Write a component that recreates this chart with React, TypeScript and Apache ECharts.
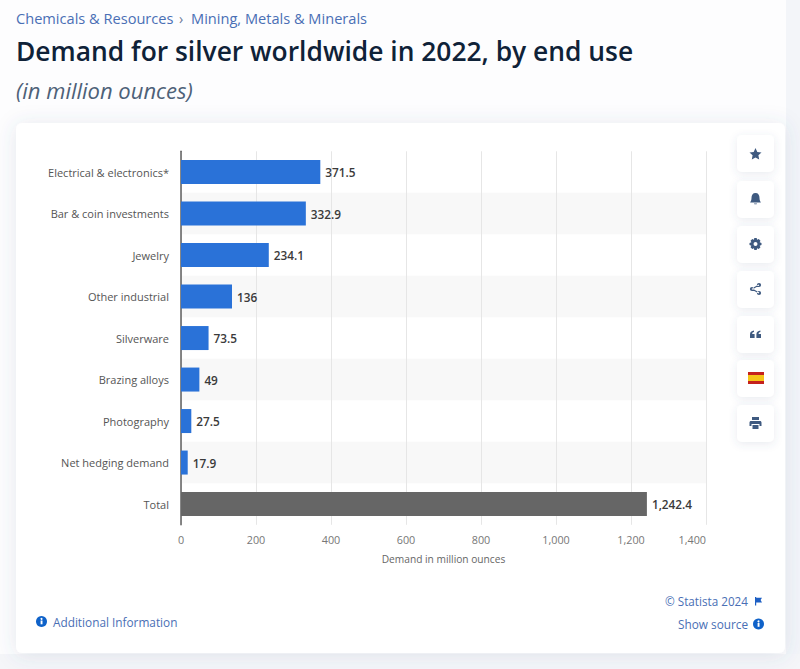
import React, { useEffect, useRef } from "react";
import * as echarts from "echarts";

const categories = ["Electrical & electronics*", "Bar & coin investments", "Jewelry", "Other industrial", "Silverware", "Brazing alloys", "Photography", "Net hedging demand", "Total"];
const values = [371.5, 332.9, 234.1, 136, 73.5, 49, 27.5, 17.9, 1242.4];
const BLUE = "#2a72d8";
const GREY = "#666666";
const LINK = "#4a6fb5";

const circ = (cx: number, cy: number, r: number) => `M${cx - r} ${cy} A${r} ${r} 0 1 0 ${cx + r} ${cy} A${r} ${r} 0 1 0 ${cx - r} ${cy} Z `;
const reg = (name: string, d: string) => echarts.graphic.registerShape(name, echarts.graphic.extendPath(d as any, {} as any) as any);
reg("star", "M6 0 L7.8 3.9 L12 4.4 L8.9 7.3 L9.7 11.5 L6 9.4 L2.3 11.5 L3.1 7.3 L0 4.4 L4.2 3.9 Z");
reg("bell", "M6 0 C8.8 0 10 2 10 5 C10 7 10.6 8 11.4 9.4 L0.6 9.4 C1.4 8 2 7 2 5 C2 2 3.2 0 6 0 Z M4.5 10.4 L7.5 10.4 C7.5 11.6 4.5 11.6 4.5 10.4 Z");
reg("gear", "M4.8 0 L7.2 0 L7.6 1.7 L9.2 1 L11 2.8 L10.1 4.3 L12 4.9 L12 7.1 L10.1 7.7 L11 9.2 L9.2 11 L7.6 10.3 L7.2 12 L4.8 12 L4.4 10.3 L2.8 11 L1 9.2 L1.9 7.7 L0 7.1 L0 4.9 L1.9 4.3 L1 2.8 L2.8 1 L4.4 1.7 Z M6 4 A2 2 0 1 0 6 8 A2 2 0 1 0 6 4 Z");
reg("share", circ(9.5, 2, 2.1) + circ(2.5, 6, 2.1) + circ(9.5, 10, 2.1) + "M2.2 5.4 L9.2 1.4 L9.8 2.6 L2.8 6.6 Z M2.8 5.4 L9.8 9.4 L9.2 10.6 L2.2 6.6 Z");
reg("quote", "M0 8 L0 4.5 C0 2 1.5 0.8 4 0.5 L4 2 C2.8 2.2 2.2 2.8 2.2 4 L4.6 4 L4.6 8 Z M6.4 8 L6.4 4.5 C6.4 2 7.9 0.8 10.4 0.5 L10.4 2 C9.2 2.2 8.6 2.8 8.6 4 L11 4 L11 8 Z");
reg("printer", "M2.5 0 L9.5 0 L9.5 3 L2.5 3 Z M1.5 4 L10.5 4 C11.4 4 12 4.6 12 5.5 L12 9 L10 9 L10 7 L2 7 L2 9 L0 9 L0 5.5 C0 4.6 0.6 4 1.5 4 Z M3 8 L9 8 L9 12 L3 12 Z");
reg("pennant", "M0 0 L1.2 0 L1.2 0.8 L7 0.8 L5.6 3 L7 5.4 L1.2 5.4 L1.2 8.5 L0 8.5 Z");

const text = (x: number, y: number, t: string, size: number, fill: string, extra: any = {}) => ({
  type: "text", x, y, silent: true,
  style: { text: t, fontSize: size, fill, fontFamily: "'Open Sans', sans-serif", verticalAlign: "middle", ...extra },
});
const shadowCard = (x: number, y: number, w: number, h: number, r: number, blur = 12, a = 0.13) => ({
  type: "rect", shape: { x, y, width: w, height: h, r }, silent: true,
  style: { fill: "#ffffff", shadowBlur: blur, shadowColor: `rgba(70,90,130,${a})`, shadowOffsetY: 2 },
});
const infoIcon = (cx: number, cy: number) => ({
  type: "group", silent: true, children: [
    { type: "circle", shape: { cx, cy, r: 5.5 }, style: { fill: "#0f62c9" } },
    { type: "rect", shape: { x: cx - 0.9, y: cy - 1, width: 1.9, height: 3.8 }, style: { fill: "#fff" } },
    { type: "circle", shape: { cx, cy: cy - 2.6, r: 1 }, style: { fill: "#fff" } },
  ],
});
const btnYs = [135, 181, 226, 271, 316, 360, 405];
const ICON = "#3f5a80";

function background(): any[] {
  const g: any[] = [
    { type: "rect", silent: true, shape: { x: 786, y: 0, width: 14, height: 669 }, style: { fill: "#f3f5f9" } },
    { type: "rect", silent: true, shape: { x: 0, y: 654, width: 800, height: 15 }, style: { fill: "#f5f6f9" } },
    shadowCard(16, 123, 769, 530, 6, 20, 0.14),
    text(16, 18, "Chemicals & Resources", 14.6, LINK),
    text(179, 18, "›", 14, "#6a7a95"),
    text(191, 18, "Mining, Metals & Minerals", 14.6, LINK),
    text(16, 51, "Demand for silver worldwide in 2022, by end use", 26.4, "#0f2238", { fontWeight: 600 }),
    text(16, 90, "(in million ounces)", 22, "#4d6178", { fontStyle: "italic" }),
    infoIcon(41.5, 621.5),
    text(53, 621.5, "Additional Information", 11.8, LINK),
    text(665, 600.5, "© Statista 2024", 11.7, LINK),
    { type: "pennant", x: 755, y: 597, silent: true, style: { fill: "#1d5fc4" } },
    text(678, 623.5, "Show source", 11.8, LINK),
    infoIcon(758.5, 624),
  ];
  btnYs.forEach((y) => g.push(shadowCard(737, y, 37, 37, 5, 8, 0.12)));
  const ix = 749.5;
  g.push({ type: "star", x: ix, y: 148, silent: true, style: { fill: ICON } });
  g.push({ type: "bell", x: ix, y: 193, silent: true, style: { fill: ICON } });
  g.push({ type: "gear", x: ix, y: 238, silent: true, style: { fill: ICON } });
  g.push({ type: "share", x: ix, y: 283, silent: true, style: { fill: ICON } });
  g.push({ type: "quote", x: ix + 0.5, y: 330, silent: true, style: { fill: ICON } });
  g.push({ type: "rect", silent: true, shape: { x: 748, y: 372, width: 16, height: 12 }, style: { fill: "#c4211d" } });
  g.push({ type: "rect", silent: true, shape: { x: 748, y: 375, width: 16, height: 6 }, style: { fill: "#f5c518" } });
  g.push({ type: "printer", x: ix, y: 417, silent: true, style: { fill: ICON } });
  return g;
}

export default function App() {
  const ref = useRef<HTMLDivElement>(null);
  useEffect(() => {
    document.body.style.margin = "0";
    const chart = echarts.init(ref.current!, undefined, { renderer: "svg" });
    chart.setOption({
      animation: false,
      backgroundColor: "#fdfdfe",
      graphic: { elements: background().map((e) => ({ ...e, z: -5 })) },
      grid: { left: 181, top: 151.3, width: 525, height: 373.5, containLabel: false, z: 3 },
      xAxis: {
        type: "value", min: 0, max: 1400, interval: 200,
        name: "Demand in million ounces", nameLocation: "middle", nameGap: 29,
        nameTextStyle: { fontSize: 10.2, color: "#666", fontFamily: "'Open Sans', sans-serif" },
        axisLine: { show: false }, axisTick: { show: false },
        axisLabel: {
          fontSize: 10.8, color: "#777", margin: 9, fontFamily: "'Open Sans', sans-serif",
          formatter: (v: number) => v.toLocaleString("en-US"),
          alignMaxLabel: "right",
        } as any,
        splitLine: { show: true, lineStyle: { color: "#e6e6e6", width: 1 } },
      },
      yAxis: {
        type: "category", inverse: true, data: categories,
        axisLine: { show: true, lineStyle: { color: "#5f5f5f", width: 1.5 } },
        axisTick: { show: false },
        axisLabel: { fontSize: 11, color: "#555", margin: 12, fontFamily: "'Open Sans', sans-serif" } as any,
        splitArea: { show: true, areaStyle: { color: ["rgba(255,255,255,0)", "#f8f8f8"] } },
      },
      series: [{
        type: "bar", barWidth: 24, z: 4,
        data: values.map((v, i) => ({ value: v, itemStyle: { color: i === values.length - 1 ? GREY : BLUE } })),
        label: {
          show: true, position: "right", distance: 5, fontSize: 11.8, fontWeight: 600, color: "#3a3a3a",
          fontFamily: "'Open Sans', sans-serif",
          formatter: (p: any) => Number(p.value).toLocaleString("en-US"),
        } as any,
      }],
    });
    return () => chart.dispose();
  }, []);
  return <div ref={ref} style={{ width: 800, height: 669, position: "absolute", left: 0, top: 0 }} />;
}
